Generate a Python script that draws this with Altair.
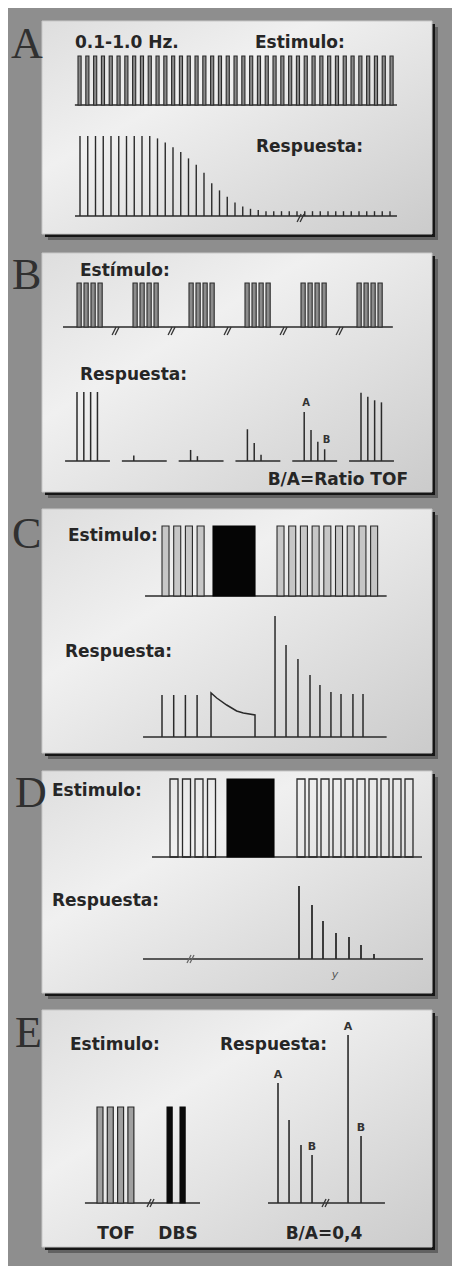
import altair as alt
import pandas as pd

OFF = 8           # page margin
W, H = 444, 1258  # chart size

# ---------------- data ----------------
# Panel A: 0.1-1.0 Hz single twitch train, 41 stimuli, response in % of control
A_pulses = list(range(41))
A_resp = [100] * 10 + [97, 92, 86, 80, 72, 64, 54, 41, 32, 24, 17, 12, 9, 7.5] + [6] * 17
A_break = [28.4]

# Panel B: six train-of-four stimuli, responses (% of control) per train
B_trains = [0, 1, 2, 3, 4, 5]
B_tof = [0, 1, 2, 3]
B_resp = [[100, 100, 100, 100], [8, 0, 0, 0], [16, 7, 0, 0],
          [46, 26, 9, 0], [71, 45, 28, 17], [99, 93, 88, 85]]
B_breaks = [0.68, 1.68, 2.68, 3.68, 4.68]

# Panel C: twitch – tetanus – post-tetanic (time in stimulus periods)
C_train1 = [0, 1, 2, 3]
C_tetanus = [4.36, 7.95]
C_train2 = [9.83, 10.83, 11.83, 12.83, 13.83, 14.83, 15.83, 16.83, 17.83]
C_ctrl_t = [0, 1, 2, 3]
C_ctrl_a = [42, 42, 42, 42]
C_tet_t = [4.19, 4.19, 4.68, 5.53, 6.38, 6.95, 7.95, 7.95]
C_tet_a = [0, 44, 39, 32, 26, 24, 22, 0]
C_post_t = [9.66, 10.6, 11.62, 12.65, 13.5, 14.44, 15.3, 16.32, 17.18]
C_post_a = [121, 92, 78, 62, 52, 45, 43, 43, 43]

# Panel D: post-tetanic count
D_train1 = [0, 1, 2, 3]
D_tetanus = [4.56, 8.32]
D_train2 = [10.16, 11.12, 12.08, 13.04, 14.0, 14.96, 15.92, 16.88, 17.84, 18.8]
D_post_t = [10.32, 11.36, 12.24, 13.28, 14.32, 15.28, 16.32]
D_post_a = [73, 54, 38, 26, 22, 14, 5]
D_break = [1.6]

# Panel E: TOF vs DBS
E_tof = [0, 1, 2, 3]
E_dbs = [6.8, 8.06]
E_stim_break = [5.15]
E_resp_t = [0, 0.96, 2.0, 2.96, 6.09, 7.22]
E_resp_a = [120, 83, 58, 48, 168, 67]
E_resp_lab = ["A", "", "", "B", "A", "B"]
E_resp_break = [4.09]

# ---------------- layout (page pixels) ----------------
panels = pd.DataFrame({
    "x": [42, 42, 42, 42, 42], "x2": [432, 432, 432, 432, 432],
    "y": [21, 253, 509, 771, 1010], "y2": [234, 492, 753, 993, 1247]})
for c in panels.columns:
    panels[c] = panels[c] - OFF

letters = pd.DataFrame({"t": ["A", "B", "C", "D", "E"],
                        "x": [11, 12, 12, 15, 15],
                        "y": [58, 289, 548, 807, 1047]})
letters["x"] -= OFF
letters["y"] -= OFF

labels = pd.DataFrame({
    "t": ["0.1-1.0 Hz.", "Estimulo:", "Respuesta:", "Estímulo:", "Respuesta:",
          "Estimulo:", "Respuesta:", "Estimulo:", "Respuesta:", "Estimulo:", "Respuesta:"],
    "x": [75, 255, 256, 80, 80, 68, 65, 52, 52, 70, 220],
    "y": [48, 48, 152, 276, 380, 541, 657, 796, 906, 1050, 1050]})
labels["x"] -= OFF
labels["y"] -= OFF

center_labels = pd.DataFrame({"t": ["TOF", "DBS", "B/A=0,4"],
                              "x": [116, 178, 324], "y": [1239, 1239, 1239]})
center_labels["x"] -= OFF
center_labels["y"] -= OFF

INK = "#2a2a2a"
FONT = "DejaVu Sans"


def sc(dom, rng):
    return alt.Scale(domain=dom, range=[rng[0] - OFF, rng[1] - OFF], nice=False, zero=False)


def px(f):
    return alt.X(f + ":Q", scale=None, axis=None)


def py(f):
    return alt.Y(f + ":Q", scale=None, axis=None)


layers = []

# panel shadows and panels
layers.append(alt.Chart(panels).mark_rect(color="#3c3c3c", opacity=0.55, xOffset=6, x2Offset=6,
                                          yOffset=6, y2Offset=6)
              .encode(x=px("x"), x2="x2:Q", y=py("y"), y2="y2:Q"))
layers.append(alt.Chart(panels).mark_rect(color="#161616", xOffset=3, x2Offset=3,
                                          yOffset=3, y2Offset=3)
              .encode(x=px("x"), x2="x2:Q", y=py("y"), y2="y2:Q"))
grad = {"gradient": "linear", "x1": 0, "y1": 0, "x2": 1, "y2": 1,
        "stops": [{"offset": 0, "color": "#dedede"}, {"offset": 0.35, "color": "#f0f0f0"},
                  {"offset": 1, "color": "#cbcbcb"}]}
layers.append(alt.Chart(panels).mark_rect(fill=grad, stroke="#c8c8c8", strokeWidth=1)
              .encode(x=px("x"), x2="x2:Q", y=py("y"), y2="y2:Q"))

# panel letters
layers.append(alt.Chart(letters).mark_text(font="Liberation Serif", fontSize=44, align="left",
                                           baseline="alphabetic", color="#303030")
              .encode(x=px("x"), y=py("y"), text="t:N"))

# labels
layers.append(alt.Chart(labels).mark_text(font=FONT, fontSize=17, fontWeight="bold", align="left",
                                          baseline="alphabetic", color="#262626")
              .encode(x=px("x"), y=py("y"), text="t:N"))
layers.append(alt.Chart(center_labels).mark_text(font=FONT, fontSize=17, fontWeight="bold",
                                                 align="center", baseline="alphabetic", color="#262626")
              .encode(x=px("x"), y=py("y"), text="t:N"))


def baseline(x0, x1, xscale, yscale, width=1.6):
    d = pd.DataFrame({"a": [x0], "b": [x1], "z": [0]})
    return (alt.Chart(d).mark_rule(color=INK, strokeWidth=width)
            .encode(x=alt.X("a:Q", scale=xscale, axis=None), x2="b:Q",
                    y=alt.Y("z:Q", scale=yscale, axis=None)))


def breaks(ts, xscale, yscale, dy=0, color="#333333"):
    d = pd.DataFrame({"t": ts, "z": [0] * len(ts)})
    out = []
    for sh in (0, 3):
        out.append(alt.Chart(d).mark_rule(color=color, strokeWidth=1.3,
                                          xOffset=-3 + sh, x2Offset=1 + sh,
                                          yOffset=4 + dy, y2Offset=-4 + dy)
                   .encode(x=alt.X("t:Q", scale=xscale, axis=None), x2="t:Q",
                           y=alt.Y("z:Q", scale=yscale, axis=None), y2="z:Q"))
    return out


def pulses(ts, width, xscale, yscale, fill, stroke=INK, sw=1.1, fop=1.0):
    d = pd.DataFrame({"t": ts})
    d["t2"] = d["t"] + width
    d["lo"] = 0
    d["hi"] = 1
    return (alt.Chart(d).mark_rect(fill=fill, fillOpacity=fop, stroke=stroke, strokeWidth=sw)
            .encode(x=alt.X("t:Q", scale=xscale, axis=None), x2="t2:Q",
                    y=alt.Y("lo:Q", scale=yscale, axis=None), y2="hi:Q"))


def spikes(ts, amps, xscale, yscale, sw=1.5, color=INK):
    d = pd.DataFrame({"t": ts, "a": amps})
    d = d[d["a"] > 0]
    d["z"] = 0
    return (alt.Chart(d).mark_rule(color=color, strokeWidth=sw)
            .encode(x=alt.X("t:Q", scale=xscale, axis=None),
                    y=alt.Y("z:Q", scale=yscale, axis=None), y2="a:Q"))


# ---------- Panel A ----------
xa_s, ya_s = sc([0, 40], [78, 390]), sc([0, 1], [105, 56])
layers.append(baseline(-0.4, 40.9, xa_s, ya_s))
layers.append(pulses(A_pulses, 0.4, xa_s, ya_s, "#8a8a8a"))
xa_r, ya_r = sc([0, 40], [80, 390]), sc([0, 100], [216, 136])
layers.append(baseline(-0.65, 40.9, xa_r, ya_r))
layers.append(spikes(A_pulses, A_resp, xa_r, ya_r, sw=1.4))
layers += breaks(A_break, xa_r, ya_r, dy=2)

# ---------- Panel B ----------
xb_s, yb_s = sc([0, 5], [77, 357]), sc([0, 1], [327, 283])
b_stim_t = [g + k * 0.125 for g in B_trains for k in B_tof]
layers.append(baseline(-0.25, 5.64, xb_s, yb_s))
layers.append(pulses(b_stim_t, 0.075, xb_s, yb_s, "#8c8c8c"))
layers += breaks(B_breaks, xb_s, yb_s, dy=4)

xb_r, yb_r = sc([0, 5], [77, 361]), sc([0, 100], [461, 392])
seg = pd.DataFrame({"a": [g - 0.21 for g in B_trains], "b": [g + 0.58 for g in B_trains],
                    "z": [0] * 6})
layers.append(alt.Chart(seg).mark_rule(color=INK, strokeWidth=1.6)
              .encode(x=alt.X("a:Q", scale=xb_r, axis=None), x2="b:Q",
                      y=alt.Y("z:Q", scale=yb_r, axis=None)))
b_t = [g + k * 0.12 for g in B_trains for k in B_tof]
b_a = [B_resp[g][k] for g in B_trains for k in B_tof]
layers.append(spikes(b_t, b_a, xb_r, yb_r, sw=1.5))
b_lab = pd.DataFrame({"t": [4 + 0 * 0.12, 4 + 3 * 0.12], "a": [B_resp[4][0], B_resp[4][3]],
                      "s": ["A", "B"]})
layers.append(alt.Chart(b_lab).mark_text(font=FONT, fontSize=10, fontWeight="bold", color="#333",
                                         baseline="bottom", dy=-4, dx=2)
              .encode(x=alt.X("t:Q", scale=xb_r, axis=None),
                      y=alt.Y("a:Q", scale=yb_r, axis=None), text="s:N"))
b_ratio = pd.DataFrame({"x": [408 - OFF], "y": [485 - OFF], "t": ["B/A=Ratio TOF"]})
layers.append(alt.Chart(b_ratio).mark_text(font=FONT, fontSize=17, fontWeight="bold", align="right",
                                           baseline="alphabetic", color="#262626")
              .encode(x=px("x"), y=py("y"), text="t:N"))

# ---------- Panel C ----------
xc, yc_s, yc_r = sc([0, 10], [162, 279]), sc([0, 1], [596, 526]), sc([0, 121], [737, 616])
layers.append(baseline(-1.45, 19.2, xc, yc_s))
layers.append(pulses(C_train1 + C_train2, 0.6, xc, yc_s, "#bdbdbd", fop=0.8))
layers.append(pulses([C_tetanus[0]], C_tetanus[1] - C_tetanus[0], xc, yc_s, "#050505", stroke="#050505"))
layers.append(baseline(-1.62, 19.2, xc, yc_r))
layers.append(spikes(C_ctrl_t, C_ctrl_a, xc, yc_r))
layers.append(spikes(C_post_t, C_post_a, xc, yc_r))
tet = pd.DataFrame({"t": C_tet_t, "a": C_tet_a, "o": list(range(len(C_tet_t)))})
layers.append(alt.Chart(tet).mark_line(color=INK, strokeWidth=1.5)
              .encode(x=alt.X("t:Q", scale=xc, axis=None), y=alt.Y("a:Q", scale=yc_r, axis=None),
                      order="o:Q"))

# ---------- Panel D ----------
xd, yd_s, yd_r = sc([0, 10], [170, 295]), sc([0, 1], [857, 779]), sc([0, 73], [959, 886])
layers.append(baseline(-1.44, 20.16, xd, yd_s))
layers.append(pulses(D_train1 + D_train2, 0.64, xd, yd_s, "#ffffff", fop=0.0, sw=1.3))
layers.append(pulses([D_tetanus[0]], D_tetanus[1] - D_tetanus[0], xd, yd_s, "#050505", stroke="#050505"))
layers.append(baseline(-2.16, 20.24, xd, yd_r, width=1.4))
layers.append(spikes(D_post_t, D_post_a, xd, yd_r, sw=1.8))
layers += breaks(D_break, xd, yd_r, color="#666666")
d_mark = pd.DataFrame({"x": [335 - OFF], "y": [975 - OFF], "t": ["y"]})
layers.append(alt.Chart(d_mark).mark_text(font=FONT, fontSize=11, color="#555", fontStyle="italic")
              .encode(x=px("x"), y=py("y"), text="t:N"))

# ---------- Panel E ----------
xe_s, ye_s = sc([0, 10], [97, 200]), sc([0, 1], [1203, 1107])
layers.append(baseline(-1.17, 10, xe_s, ye_s))
layers.append(pulses(E_tof, 0.58, xe_s, ye_s, "#a0a0a0", sw=1.2))
layers.append(pulses(E_dbs, 0.5, xe_s, ye_s, "#0a0a0a", stroke="#0a0a0a"))
layers += breaks(E_stim_break, xe_s, ye_s)
xe_r, ye_r = sc([0, 10], [278, 393]), sc([0, 168], [1203, 1035])
layers.append(baseline(-0.87, 9.3, xe_r, ye_r))
layers.append(spikes(E_resp_t, E_resp_a, xe_r, ye_r, sw=1.6))
layers += breaks(E_resp_break, xe_r, ye_r)
e_lab = pd.DataFrame({"t": E_resp_t, "a": E_resp_a, "s": E_resp_lab})
e_lab = e_lab[e_lab["s"] != ""]
layers.append(alt.Chart(e_lab).mark_text(font=FONT, fontSize=11, fontWeight="bold", color="#333",
                                         baseline="bottom", dy=-3)
              .encode(x=alt.X("t:Q", scale=xe_r, axis=None),
                      y=alt.Y("a:Q", scale=ye_r, axis=None), text="s:N"))

chart = (alt.layer(*layers)
         .resolve_scale(x="independent", y="independent")
         .properties(width=W, height=H, padding=0, background="#8e8e8e")
         .configure_view(stroke=None))

chart.save("out.html", embed_options={"renderer": "svg", "actions": False})
